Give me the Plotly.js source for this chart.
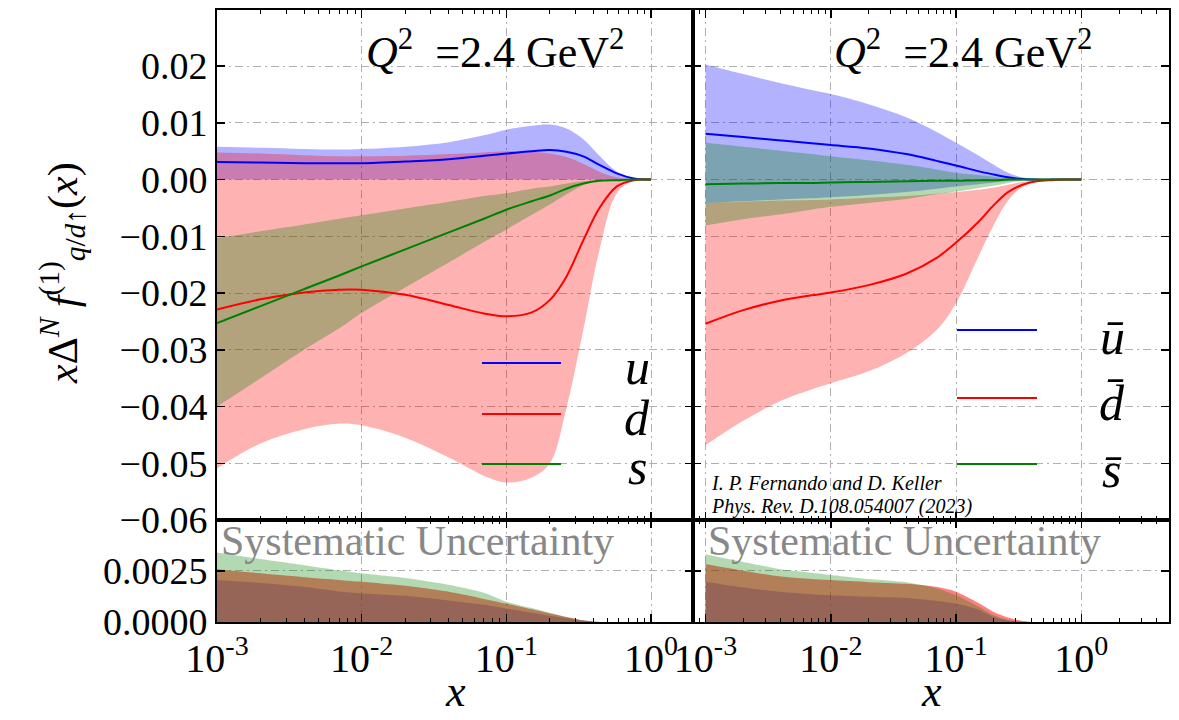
<!DOCTYPE html>
<html><head><meta charset="utf-8">
<script src="https://cdn.plot.ly/plotly-3.0.1.min.js"></script>
<style>html,body{margin:0;padding:0;background:#fff}#chart{width:1179px;height:720px}</style>
</head><body><div id="chart"></div>
<script>
// ---------------- data ----------------
const xGrid = [0.001,0.002,0.004,0.007,0.01,0.02,0.04,0.07,0.1,0.15,0.2,0.26,0.34,0.44,0.58,0.76,1.0];

// quarks (left panel)
const uLine = [0.0031,0.0030,0.0029,0.0029,0.0029,0.0032,0.0036,0.0042,0.0046,0.0050,0.0052,0.0049,0.0041,0.0026,0.0011,0.0002,0];
const uUp   = [0.0058,0.0056,0.0054,0.0053,0.0054,0.0058,0.0066,0.0078,0.0088,0.0095,0.0097,0.0090,0.0071,0.0042,0.0014,0.0002,0];
const uLo   = [0,0,0,0,0,0,0,0,0,0,0,0,0,0,0,0,0];
const dLine = [-0.0229,-0.0211,-0.0199,-0.0194,-0.0194,-0.0203,-0.0221,-0.0236,-0.0241,-0.0234,-0.0212,-0.0171,-0.0107,-0.0050,-0.0012,-0.0001,0];
const dUp   = [0.0048,0.0046,0.0043,0.0041,0.0041,0.0042,0.0045,0.0048,0.0050,0.0049,0.0046,0.0040,0.0028,0.0014,0.0004,0,0];
const dLo   = [-0.0509,-0.0465,-0.0440,-0.0430,-0.0433,-0.0455,-0.0490,-0.0522,-0.0534,-0.0525,-0.0500,-0.0403,-0.0265,-0.0124,-0.0024,-0.0001,0];
const sLine = [-0.0253,-0.0223,-0.0193,-0.0169,-0.0153,-0.0123,-0.0093,-0.0069,-0.0053,-0.0038,-0.0028,-0.0016,-0.0007,-0.0002,-0.0001,0,0];
const sUp   = [-0.0103,-0.0091,-0.0079,-0.0069,-0.0063,-0.0051,-0.0039,-0.0029,-0.0024,-0.0016,-0.0012,-0.0007,-0.0003,-0.0001,0,0,0];
const sLo   = [-0.0400,-0.0350,-0.0300,-0.0262,-0.0235,-0.0190,-0.0146,-0.0110,-0.0088,-0.0062,-0.0044,-0.0026,-0.0010,-0.0002,0,0,0];

// antiquarks (right panel)
const ubLine = [0.0081,0.0075,0.0069,0.0064,0.0061,0.0055,0.0045,0.0033,0.0025,0.0015,0.0009,0.0004,0.0001,0,0,0,0];
const ubUp   = [0.0203,0.0186,0.0170,0.0158,0.0151,0.0133,0.0110,0.0084,0.0065,0.0043,0.0026,0.0012,0.0004,0.0001,0,0,0];
const ubLo   = [-0.0041,-0.0038,-0.0035,-0.0033,-0.0031,-0.0027,-0.0022,-0.0016,-0.0012,-0.0008,-0.0005,-0.0003,-0.0001,0,0,0,0];
const dbLine = [-0.0254,-0.0230,-0.0213,-0.0204,-0.0199,-0.0186,-0.0166,-0.0138,-0.0111,-0.0075,-0.0045,-0.0022,-0.0009,-0.0003,-0.0001,0,0];
const dbUp   = [-0.0041,-0.0039,-0.0037,-0.0036,-0.0035,-0.0032,-0.0029,-0.0025,-0.0022,-0.0018,-0.0014,-0.0009,-0.0004,-0.0001,0,0,0];
const dbLo   = [-0.0468,-0.0425,-0.0390,-0.0370,-0.0359,-0.0338,-0.0306,-0.0265,-0.0218,-0.0137,-0.0080,-0.0037,-0.0013,-0.0003,-0.0001,0,0];
const sbLine = [-0.0008,-0.0007,-0.0006,-0.0006,-0.0005,-0.0004,-0.0003,-0.0002,-0.0002,-0.0001,-0.0001,0,0,0,0,0,0];
const sbUp   = [0.0065,0.0058,0.0051,0.0045,0.0041,0.0034,0.0026,0.0018,0.0012,0.0008,0.0005,0.0002,0.0001,0,0,0,0];
const sbLo   = [-0.0081,-0.0070,-0.0061,-0.0053,-0.0048,-0.0041,-0.0034,-0.0026,-0.0021,-0.0015,-0.0011,-0.0006,-0.0002,-0.0001,0,0,0];

// systematic uncertainty
const sysUL = [0.00205,0.00191,0.00172,0.00149,0.00140,0.00128,0.00105,0.00084,0.00066,0.00045,0.00030,0.00018,0.00006,0,0,0,0];
const sysDL = [0.00258,0.00238,0.00219,0.00206,0.00197,0.00177,0.00148,0.00113,0.00090,0.00062,0.00042,0.00025,0.00008,0,0,0,0];
const sysSL = [0.00340,0.00308,0.00278,0.00253,0.00238,0.00215,0.00182,0.00143,0.00099,0.00068,0.00045,0.00025,0.00008,0,0,0,0];
const sysUR = [0.00197,0.00169,0.00148,0.00136,0.00131,0.00123,0.00117,0.00103,0.00090,0.00061,0.00025,0.00008,0.00001,0,0,0,0];
const sysDR = [0.00284,0.00251,0.00222,0.00210,0.00205,0.00195,0.00187,0.00172,0.00148,0.00094,0.00049,0.00022,0.00005,0,0,0,0];
const sysSR = [0.00332,0.00294,0.00258,0.00241,0.00230,0.00210,0.00194,0.00164,0.00131,0.00077,0.00033,0.00010,0.00001,0,0,0,0];

const xTickVals = [0.001,0.01,0.1,1];
const xTickText = ['10<sup>-3</sup>','10<sup>-2</sup>','10<sup>-1</sup>','10<sup>0</sup>'];
const leftLabels = ['<i>u</i>','<i>d</i>','<i>s</i>'];
const rightLabels = ['<i>u\u0304</i>','<i>d\u0304</i>','<i>s\u0304</i>'];
const qLabel = '<i>Q</i><sup>2</sup>\u00a0\u00a0=2.4\u00a0GeV<sup>2</sup>';
const sysLabel = 'Systematic Uncertainty';
const cite1 = 'I. P. Fernando and D. Keller';
const cite2 = 'Phys. Rev. D.108.054007 (2023)';
const xTitleText = '<i>x</i>';
const yTitleText = '<i>x</i>\u0394<sup><i>N</i></sup> <i>f</i><sup>(1)</sup><sub><i>q</i>/<i>d</i>\u2191</sub>(<i>x</i>)';

// ---------------- styling ----------------
const BLUE='#0000ff', RED='#ff0000', GREEN='#008000';
const fBlue='rgba(0,0,255,0.3)', fRed='rgba(255,0,0,0.3)', fGreen='rgba(0,128,0,0.3)';
const sBlue='rgba(0,0,255,0.3)', sRed='rgba(255,0,0,0.5)', sGreen='rgba(0,128,0,0.3)';
const SERIF = 'Liberation Serif, Times New Roman, serif';
const SM = 1.0;

function band(lo, hi, color, xa, ya){
  return [
    {x:xGrid, y:lo, xaxis:xa, yaxis:ya, mode:'lines', line:{width:0, shape:'spline', smoothing:SM}, hoverinfo:'skip', showlegend:false},
    {x:xGrid, y:hi, xaxis:xa, yaxis:ya, mode:'lines', fill:'tonexty', fillcolor:color, line:{width:0, shape:'spline', smoothing:SM}, hoverinfo:'skip', showlegend:false}
  ];
}
function line(y, color, xa, ya){
  return {x:xGrid, y:y, xaxis:xa, yaxis:ya, mode:'lines', line:{color:color, width:2, shape:'spline', smoothing:SM}, hoverinfo:'skip', showlegend:false};
}
function sys(y, color, xa, ya){
  return {x:xGrid, y:y, xaxis:xa, yaxis:ya, mode:'lines', fill:'tozeroy', fillcolor:color, line:{width:0, shape:'spline', smoothing:0.7}, hoverinfo:'skip', showlegend:false};
}

const traces = [].concat(
  band(uLo, uUp, fBlue, 'x', 'y'),
  band(dLo, dUp, fRed, 'x', 'y'),
  band(sLo, sUp, fGreen, 'x', 'y'),
  [line(uLine, BLUE, 'x', 'y'), line(dLine, RED, 'x', 'y'), line(sLine, GREEN, 'x', 'y')],
  band(ubLo, ubUp, fBlue, 'x2', 'y2'),
  band(dbLo, dbUp, fRed, 'x2', 'y2'),
  band(sbLo, sbUp, fGreen, 'x2', 'y2'),
  [line(ubLine, BLUE, 'x2', 'y2'), line(dbLine, RED, 'x2', 'y2'), line(sbLine, GREEN, 'x2', 'y2')],
  [sys(sysUL, sBlue, 'x3', 'y3'), sys(sysDL, sRed, 'x3', 'y3'), sys(sysSL, sGreen, 'x3', 'y3')],
  [sys(sysUR, sBlue, 'x4', 'y4'), sys(sysDR, sRed, 'x4', 'y4'), sys(sysSR, sGreen, 'x4', 'y4')]
);

// minor tick positions (2..9 per decade)
const minorVals = [];
for (let e=-4; e<=1; e++) for (let m=2; m<=9; m++) minorVals.push(m*Math.pow(10,e));

const W=1179, H=720, ML=217, MR=10, MT=10, MB=98;
const PW=W-ML-MR, PH=H-MT-MB;
const px = p => (p-ML)/PW;
const py = p => 1-(p-MT)/PH;
const split = px(693);
const vsplit = py(520);

const GRID = {showgrid:true, gridcolor:'#b0b0b0', gridwidth:1, griddash:'8px,4px,2px,4px'};
function xAx(dom, rng, anchor, labels){
  return Object.assign({
    domain:dom, anchor:anchor, type:'log', range:rng,
    tickmode:'array', tickvals:xTickVals, ticktext:xTickText,
    showticklabels:labels, ticks:'inside', ticklen:8, tickwidth:1.5, tickcolor:'#000',
    mirror:'allticks', showline:true, linewidth:2, linecolor:'#000',
    minor:{tickmode:'array', tickvals:minorVals, ticks:'inside', ticklen:4, tickwidth:1, tickcolor:'#000', showgrid:false},
    tickfont:{family:SERIF, size:40, color:'#000'}, zeroline:false, fixedrange:true
  }, GRID);
}
function yAx(dom, rng, anchor, labels, dtick, fmt){
  return Object.assign({
    domain:dom, anchor:anchor, range:rng, dtick:dtick, tick0:0, tickformat:fmt,
    showticklabels:labels, ticks:'inside', ticklen:8, tickwidth:1.5, tickcolor:'#000',
    mirror:'allticks', showline:true, linewidth:2, linecolor:'#000',
    tickfont:{family:SERIF, size:38, color:'#000'}, zeroline:false, fixedrange:true
  }, GRID);
}

const layout = {
  width:W, height:H, margin:{l:ML, r:MR, t:MT, b:MB},
  paper_bgcolor:'#fff', plot_bgcolor:'rgba(0,0,0,0)', showlegend:false, hovermode:false,
  font:{family:SERIF, color:'#000'},
  xaxis: xAx([0,split],[-3,0.29],'y',false),
  xaxis2: xAx([split,1],[-3.1,0.70],'y2',false),
  xaxis3: xAx([0,split],[-3,0.29],'y3',true),
  xaxis4: xAx([split,1],[-3.1,0.70],'y4',true),
  yaxis: yAx([vsplit,1],[-0.06,0.0299],'x',true,0.01,'.2f'),
  yaxis2: yAx([vsplit,1],[-0.06,0.0299],'x2',false,0.01,'.2f'),
  yaxis3: yAx([0,vsplit],[0,0.00499],'x3',true,0.0025,'.4f'),
  yaxis4: yAx([0,vsplit],[0,0.00499],'x4',false,0.0025,'.4f'),
  shapes: [],
  annotations: []
};

function ann(text, x, y, size, extra){
  return Object.assign({text:text, xref:'paper', yref:'paper', x:px(x), y:py(y), xanchor:'center', yanchor:'middle', showarrow:false, font:{family:SERIF, size:size, color:'#000'}}, extra||{});
}
const A = layout.annotations;
A.push(ann(qLabel, 495, 50, 44));
A.push(ann(qLabel, 963, 50, 44));
// legends
const legColors=[BLUE,RED,GREEN];
const legLeftY=[363,414,464], legRightY=[330,398,464];
const labLeftY=[367,418,467], labRightY=[337,403,470];
for (let i=0;i<3;i++){
  layout.shapes.push({type:'line', xref:'paper', yref:'paper', x0:px(482), x1:px(561), y0:py(legLeftY[i]), y1:py(legLeftY[i]), line:{color:legColors[i], width:2}});
  layout.shapes.push({type:'line', xref:'paper', yref:'paper', x0:px(957), x1:px(1037), y0:py(legRightY[i]), y1:py(legRightY[i]), line:{color:legColors[i], width:2}});
  A.push(ann(leftLabels[i], 637, labLeftY[i], 50));
  A.push(ann(rightLabels[i], 1112, labRightY[i], 50));
}
A.push(ann('<i>'+cite1+'</i>', 709, 483, 20, {xanchor:'left'}));
A.push(ann('<i>'+cite2+'</i>', 709, 506, 20, {xanchor:'left'}));
A.push(ann(sysLabel, 219, 541, 42, {xanchor:'left', font:{family:SERIF,size:42,color:'#888888'}}));
A.push(ann(sysLabel, 706, 541, 42, {xanchor:'left', font:{family:SERIF,size:42,color:'#888888'}}));
// axis titles
A.push(ann(xTitleText, 455, 691, 44));
A.push(ann(xTitleText, 931, 691, 44));
A.push(ann(yTitleText, 62, 273, 42, {textangle:-90}));

Plotly.newPlot('chart', traces, layout, {staticPlot:true, displayModeBar:false});
</script></body></html>
